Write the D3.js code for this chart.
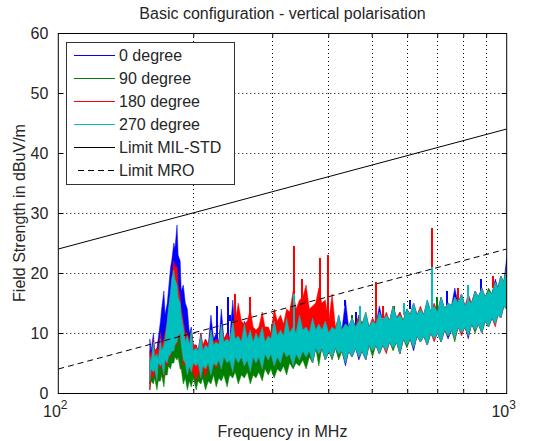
<!DOCTYPE html>
<html>
<head>
<meta charset="utf-8">
<script src="https://cdn.jsdelivr.net/npm/d3@7"></script>
<style>
body { margin: 0; background: #fff; }
text { font-family: "Liberation Sans", Arial, Helvetica, sans-serif; fill: #262626; }
</style>
</head>
<body>
<svg id="chart" width="533" height="441"></svg>
<script>
// frequency points of the sweep (MHz)
var freqMHz = [160,161,163,164,166,167,169,170,172,173,175,176,178,179,181,182,184,185,187,188,190,192,194,196,198,200,203,205,208,210,213,216,219,222,225,228,231,234,238,241,245,248,252,256,260,264,268,272,276,280,285,289,294,298,303,308,313,318,323,328,334,339,345,351,357,363,369,375,381,387,394,401,408,415,422,429,437,444,452,460,468,476,485,493,502,511,520,529,539,548,558,568,578,588,599,609,620,631,642,653,665,677,689,701,714,727,740,753,766,779,793,807,821,835,850,865,880,895,911,927,943,956,970,985,1000];

// field strength envelopes (dBuV/m), upper / lower
var deg0Hi = [9,7,10,7,7.5,9,12,14,17,13,15,17,21,22,25,24,28,23,22,17,18,15,14,10,11,8,8,7,10,7.5,9,8,13,9,10,8.5,14,9,10,9,15.5,10,11,9,12,9,10,8.5,10.5,9,11,8.5,9.5,9,12,9.5,10.5,9.5,12.5,10,11,10,12.5,10.5,10.5,10,12,10.5,11.5,10.5,12,10,11,10.5,13,10.5,15.5,11,12.5,11,12,11.5,13,11,12,11.5,14.5,12,13,12,14.5,12.5,13,12,14,13,15,13,14,13,15.5,13.5,14.5,13.5,16,14,15,14.5,17.5,15,16.5,14.5,15.5,15,17,16,17.5,16,17,16.5,19,17.5,19.5,18.5,22.5];
var deg0Lo = [1.5,4,3,4,2,5,4,5,3,5.5,4.5,6,6,7,7,8,8,9.5,9,8,4.5,5,3,4.5,3,5,4,5,2.5,4.5,3.5,5,3,5,4,5.5,3.5,6,4.5,5.5,3.5,6,4.5,6,4,5.5,3,6,4,6,3.5,6.5,5,6.5,4,6,4.5,7,5.5,6.5,4.5,6.5,5.5,7,5.5,7,5,7.5,6,7.5,5.5,7,6,7.5,6,7,4.5,7,6,7.5,5.5,7,5.5,8,7,8,6.5,8,7,8.5,7.5,8.5,6.5,9,8,9,7,9.5,8.5,9.5,8,10,9,10,8.5,10.5,9,10.5,9,11,10,11,9,11.5,10.5,11.5,10,12,11,12.5,11.5,13,12.5,14.5,14];
var deg90Hi = [5,4,6,4.5,5,5,7,6,6.5,7.5,9,9.5,10,11,12,12,12.5,12,12,10.5,9,7,7,6,7,5.5,6,5.5,7.5,6,6.5,6.5,8,7,7,7,8.5,7.5,7.5,7.5,9,8,8,8,9,8,8.5,8,8.5,8.5,9.5,8.5,9,9,10,9,10,9.5,11,9.5,10.5,10,11.5,10,10.5,10,11.5,10.5,11,10.5,11.5,10,11,10.5,12,10.5,11.5,11,12,11,13,11.5,13,11,12,11.5,13,12,12.5,12,14,12.5,13.5,12,14,13,14.5,13,14,13,15,13.5,14.5,13.5,15.5,14,15,14.5,16,15,16,14.5,15.5,15,16.5,16,17,16,17.5,16.5,18.5,17.5,19,18.5,20.5];
var deg90Lo = [0.5,2,1.5,2.5,0.5,2,2,3,1,3,3,4.5,4,5,5,6,5.5,6,4,4,1.5,2.5,0.5,2,1,2.5,0.5,2,1.5,2.5,0.5,2,1.5,3,1,2.5,2,3,1,3,2.5,3.5,1.5,3,2.5,3.5,1.5,3,2.5,3.5,2,4,3,4,2.5,4,3.5,4.5,3,5,4,5,4.5,5.5,4,6,5,7.5,4.5,7.5,5.5,7,5.5,7.5,5.5,7,5,7,6,7.5,6,7,5.5,8,6,8,6.5,8,7,8.5,7,8.5,6.5,9,7.5,9,7.5,9.5,8.5,9.5,8,10,9,10,8.5,10.5,9.5,10.5,8.5,11,10,11,9.5,11.5,10,11.5,10,12,11,12.5,11.5,13,12.5,14.5,14];
var deg180Hi = [7,6,9,7,7.5,7,10,8,9,10,12,14,16,19,22,21,21,18,16,14,12,10,10,8.5,10.5,8,8,7,10,8,9,8,10.5,8.5,9,8.5,11.5,9,10,9,12,12,15,12,11.5,12,14,11,10.5,11,13.5,11,11,10,14,12,13,11.5,14,13.5,17,14,15.5,16,18,14,14.5,15,17.5,15,15.5,12,16.5,11,12.5,10.5,11.5,11,12.5,11,13,11.5,13.5,11,12.5,11.5,13,12,13.5,12,14.5,12.5,13.5,12,14,13,15,13,14.5,13,15,13.5,15,13.5,16,14,15,14.5,16,15,16.5,14.5,16.5,15,17,16,17.5,16,17,16.5,18.5,17.5,19.5,18.5,21];
var deg180Lo = [0.5,3,2.5,4,2,5,4,5,2.5,5.5,4.5,6,6,7,7,8,8,9.5,9,8,4.5,5,3,4.5,3.5,3.5,2,3.5,2.5,4.5,2.5,5,3,5,4,5.5,4,6,5,5.5,3.5,6,5,6,4.5,5.5,3.5,6,5,6,4,6.5,5.5,6.5,4.5,6,5,7,6,6.5,4.5,6.5,5.5,7,6,7,5,7.5,6.5,7.5,5.5,7,6,7.5,6.5,7,5,7,6,7.5,6,7,5.5,8,7,8,6.5,8,6.5,8.5,7.5,8.5,6.5,9,8,9,7.5,9.5,8.5,9.5,8,10,8.5,10,8.5,10.5,9.5,10.5,9,11,9.5,11,9.5,11.5,10.5,11.5,10,12,11,12.5,11,13,12.5,14.5,14];
var deg270Hi = [6,5,8.5,6,6.5,5.5,9,7,8,9,12,14,17,19,20.5,19,18,16,15,13,11,8.5,9.5,8,10.5,7,7.5,7,9.5,7,8,7.5,10.5,8,8.5,8,11.5,8.5,9,8.5,12,9,9.5,8.5,11.5,9,10.5,8.5,10,9,11,8.5,9.5,9,12,9.5,10.5,9.5,12.5,10,11,10,13,10.5,11,10,12.5,10.5,11.5,10.5,12,10,11,10.5,13,10.5,11.5,11,12.5,11,12,11.5,13.5,11,12,11.5,13.5,12,13,12,14.5,12.5,13,12,14,13,15,13,14,13,15.5,13.5,14.5,13.5,16,14,15,14.5,16,15,16.5,14.5,15.5,15,17,16,17.5,16,17,16.5,18.5,17.5,19.5,18.5,21];
var deg270Lo = [2,4,3.5,4,2,5,4.5,5,3,5.5,5,6,6.5,7,7,8,8.5,9.5,10,8,5.5,5,3,4.5,3.5,5,4.5,5,2.5,4.5,4,5,3,5,4.5,5.5,4,6,5,5.5,3.5,6,5,6,4.5,5.5,3.5,6,5,6,4,6.5,5.5,6.5,4.5,6,5,7,6,6.5,4.5,6.5,5.5,7,6,7,5,7.5,6.5,7.5,5.5,7,6,7.5,6.5,7,5,7,6,7.5,6,7,5.5,8,7,8,6.5,8,7,8.5,7.5,8.5,6.5,9,8,9,7.5,9.5,8.5,9.5,8,10,9,10,8.5,10.5,9.5,10.5,9,11,10,11,9.5,11.5,10.5,11.5,10,12,11,12.5,11.5,13,12.5,14.5,14];

// single narrow peaks [MHz, dBuV/m]
var deg0Spikes   = [[226,14.5],[239,16],[242,13],[436,15.5],[462,13.5],[610,15.5],[735,17],[875,19]];
var deg90Spikes  = [[300,11.5],[452,13],[560,14.5],[700,16]];
var deg180Spikes = [[248,16.5],[268,16],[336,24.5],[350,19],[383,22.5],[400,23],[510,18.5],[530,14.5],[680,27.5],[780,17.5],[930,19.5]];
var deg270Spikes = [[336,16.5],[470,14.5],[590,15],[680,21],[820,18]];

// limit lines
var limitFreq = [100, 1000];
var limitMilStd = [24, 44];
var limitMro = [4, 24];

var seriesNames = ["0 degree", "90 degree", "180 degree", "270 degree"];
var seriesColors = ["#0000ff", "#008000", "#ff0000", "#00bfbf"];

var yTicks = [0,10,20,30,40,50,60];
var xMinorTicks = [200,300,400,500,600,700,800,900];

var MARGIN_LEFT = 58.3, PLOT_RIGHT = 506.7, MARGIN_TOP = 33, PLOT_BOTTOM = 393;

var svg = d3.select("#chart");

var x = d3.scaleLog().domain([100, 1000]).range([MARGIN_LEFT, PLOT_RIGHT]);
var y = d3.scaleLinear().domain([0, 60]).range([PLOT_BOTTOM, MARGIN_TOP]);

svg.append("defs").append("clipPath").attr("id", "plotclip")
    .append("rect")
    .attr("x", MARGIN_LEFT).attr("y", MARGIN_TOP)
    .attr("width", PLOT_RIGHT - MARGIN_LEFT).attr("height", PLOT_BOTTOM - MARGIN_TOP);

// grid (behind data)
var grid = svg.append("g").attr("stroke", "#000").attr("stroke-width", 1).attr("stroke-dasharray", "1,3");
grid.selectAll("line.gx").data(xMinorTicks).enter().append("line")
    .attr("x1", function(d){ return Math.round(x(d)) + 0.5; })
    .attr("x2", function(d){ return Math.round(x(d)) + 0.5; })
    .attr("y1", MARGIN_TOP).attr("y2", PLOT_BOTTOM);
grid.selectAll("line.gy").data(yTicks.slice(1, -1)).enter().append("line")
    .attr("x1", MARGIN_LEFT).attr("x2", PLOT_RIGHT)
    .attr("y1", function(d){ return Math.round(y(d)) + 0.5; })
    .attr("y2", function(d){ return Math.round(y(d)) + 0.5; });

// measured data, drawn in plot order so 270 degree ends on top
var hiSets = [deg0Hi, deg90Hi, deg180Hi, deg270Hi];
var loSets = [deg0Lo, deg90Lo, deg180Lo, deg270Lo];
var spikeSets = [deg0Spikes, deg90Spikes, deg180Spikes, deg270Spikes];

var area = d3.area()
    .x(function(d){ return x(d.f); })
    .y0(function(d){ return y(d.lo); })
    .y1(function(d){ return y(d.hi); });

var dataG = svg.append("g").attr("clip-path", "url(#plotclip)");

for (var s = 0; s < 4; s++) {
    var n = Math.min(freqMHz.length, hiSets[s].length, loSets[s].length);
    var pts = [];
    for (var i = 0; i < n; i++) {
        pts.push({f: freqMHz[i], hi: hiSets[s][i], lo: loSets[s][i]});
    }
    dataG.append("path")
        .datum(pts)
        .attr("d", area)
        .attr("fill", seriesColors[s])
        .attr("stroke", seriesColors[s])
        .attr("stroke-width", 0.5);

    var hi = hiSets[s];
    dataG.selectAll("line.spike" + s)
        .data(spikeSets[s]).enter().append("line")
        .attr("x1", function(d){ return Math.round(x(d[0])); })
        .attr("x2", function(d){ return Math.round(x(d[0])); })
        .attr("y1", function(d){ return y(d[1]); })
        .attr("y2", function(d){
            var k = Math.min(d3.bisectLeft(freqMHz, d[0]), hi.length - 1);
            return y(Math.min(hi[k], d[1]) - 1);
        })
        .attr("stroke", seriesColors[s])
        .attr("stroke-width", 2);
}

// limits
var limitLine = d3.line()
    .x(function(d){ return x(d[0]); })
    .y(function(d){ return y(d[1]); });

dataG.append("path")
    .datum(limitFreq.map(function(f, i){ return [f, limitMilStd[i]]; }))
    .attr("d", limitLine).attr("fill", "none").attr("stroke", "#000").attr("stroke-width", 1);
dataG.append("path")
    .datum(limitFreq.map(function(f, i){ return [f, limitMro[i]]; }))
    .attr("d", limitLine).attr("fill", "none").attr("stroke", "#000").attr("stroke-width", 1)
    .attr("stroke-dasharray", "6,4");

// axes: inward ticks on all four sides
var axL = svg.append("g").attr("transform", "translate(" + MARGIN_LEFT + ",0)")
    .call(d3.axisLeft(y).tickValues(yTicks).tickSize(-5).tickPadding(10).tickFormat(d3.format("d")));
var axR = svg.append("g").attr("transform", "translate(" + PLOT_RIGHT + ",0)")
    .call(d3.axisRight(y).tickValues(yTicks).tickSize(-5).tickFormat(""));
var axB = svg.append("g").attr("transform", "translate(0," + PLOT_BOTTOM + ")")
    .call(d3.axisBottom(x).tickValues(xMinorTicks).tickSize(-4).tickFormat(""));
var axT = svg.append("g").attr("transform", "translate(0," + MARGIN_TOP + ")")
    .call(d3.axisTop(x).tickValues(xMinorTicks).tickSize(-4).tickFormat(""));

[axL, axR, axB, axT].forEach(function(a){
    a.select(".domain").remove();
    a.selectAll(".tick line").attr("stroke", "#000");
});
axL.selectAll(".tick text").attr("font-size", 16).attr("fill", "#262626")
    .attr("font-family", "Liberation Sans, Arial, sans-serif");

svg.append("rect")
    .attr("x", MARGIN_LEFT).attr("y", MARGIN_TOP + 0.5)
    .attr("width", PLOT_RIGHT - MARGIN_LEFT).attr("height", PLOT_BOTTOM - MARGIN_TOP)
    .attr("fill", "none").attr("stroke", "#000").attr("stroke-width", 1);

// decade labels 10^2, 10^3
var decades = [[100, "2"], [1000, "3"]];
svg.selectAll("text.dec").data(decades).enter().append("text")
    .attr("class", "dec")
    .attr("x", function(d){ return x(d[0]) - 3; })
    .attr("y", 417)
    .attr("text-anchor", "middle")
    .attr("font-size", 16)
    .each(function(d){
        var t = d3.select(this);
        t.append("tspan").text("10");
        t.append("tspan").attr("dy", -8).attr("font-size", 12).text(d[1]);
    });

// titles
svg.append("text").attr("x", (MARGIN_LEFT + PLOT_RIGHT) / 2).attr("y", 19)
    .attr("text-anchor", "middle").attr("font-size", 16)
    .text("Basic configuration - vertical polarisation");
svg.append("text").attr("x", (MARGIN_LEFT + PLOT_RIGHT) / 2).attr("y", 437)
    .attr("text-anchor", "middle").attr("font-size", 16)
    .text("Frequency in MHz");
svg.append("text")
    .attr("transform", "translate(25," + ((MARGIN_TOP + PLOT_BOTTOM) / 2) + ") rotate(-90)")
    .attr("text-anchor", "middle").attr("font-size", 16)
    .text("Field Strength in dBuV/m");

// legend
var legendItems = seriesNames.map(function(n, i){ return {name: n, color: seriesColors[i], dash: null}; });
legendItems.push({name: "Limit MIL-STD", color: "#000", dash: null});
legendItems.push({name: "Limit MRO", color: "#000", dash: "6,4"});

var lg = svg.append("g").attr("transform", "translate(66,42)");
lg.append("rect").attr("x", 0.5).attr("y", 0.5).attr("width", 168).attr("height", 142)
    .attr("fill", "#fff").attr("stroke", "#333").attr("stroke-width", 1);
var li = lg.selectAll("g.item").data(legendItems).enter().append("g")
    .attr("transform", function(d, i){ return "translate(0," + (13.5 + i * 23) + ")"; });
li.append("line").attr("x1", function(d){ return d.dash ? 12 : 8; }).attr("x2", 49)
    .attr("stroke", function(d){ return d.color; })
    .attr("stroke-width", 1.2)
    .attr("stroke-dasharray", function(d){ return d.dash; });
li.append("text").attr("x", 53).attr("y", 0).attr("dy", "0.35em")
    .attr("font-size", 16)
    .text(function(d){ return d.name; });
</script>
</body>
</html>
